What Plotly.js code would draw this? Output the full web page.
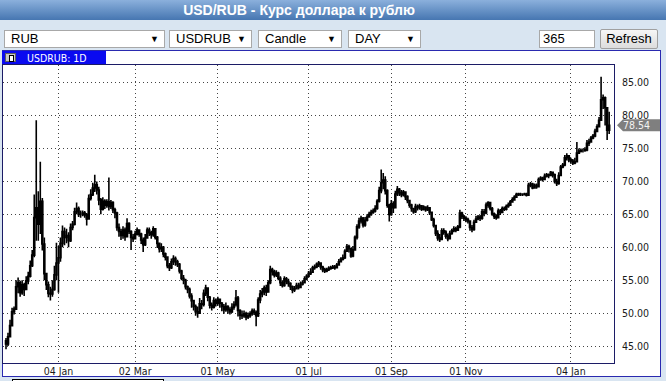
<!DOCTYPE html>
<html><head><meta charset="utf-8">
<script src="https://cdn.plot.ly/plotly-3.0.1.min.js"></script>
<style>
html,body{margin:0;padding:0}
body{width:666px;height:381px;overflow:hidden;background:#d9e5f1;font-family:"Liberation Sans",Arial,sans-serif;position:relative}
#titlebar{position:absolute;left:0;top:0;width:666px;height:20px;background:linear-gradient(#8bb0dc,#4676b1)}
#titlebar span{position:absolute;left:0;top:2px;width:598px;text-align:center;color:#fff;font-weight:bold;font-size:14px;line-height:16px}
.sel{position:absolute;top:30px;height:18px;box-sizing:border-box;border:1px solid #a8a8a8;background:#fff;font-size:13px;line-height:16px;padding-left:6px;color:#000}
.sel i{position:absolute;right:5px;top:0;font-style:normal;font-size:9px}
#num{position:absolute;left:539px;top:30px;width:56px;height:18px;box-sizing:border-box;border:1px solid #a8a8a8;background:#fff;font-size:13px;line-height:16px;padding-left:3px}
#btn{position:absolute;left:600px;top:29px;width:58px;height:20px;box-sizing:border-box;border:1px solid #a0a0a0;border-radius:2px;background:linear-gradient(#f6f6f6,#dcdcdc);font-size:13px;line-height:18px;text-align:center}
#panel{position:absolute;left:2px;top:50px;width:659px;height:327px;box-sizing:border-box;border:1px solid #2a2ab0;background:#fff}
#tab{position:absolute;left:2px;top:51px;width:104px;height:14px;background:#0a0af0;color:#fff;font-family:"DejaVu Sans Condensed",sans-serif;font-size:10.5px;line-height:14px}
#tab span{position:absolute;left:25px;top:0}
#icon{position:absolute;left:3px;top:2px;width:11px;height:9px;background:#c8c8c8;border:1px solid #606060;box-sizing:border-box}
#icon b{position:absolute;left:3px;top:1px;width:3px;height:5px;border:1px solid #000;background:#fff}
#scroll{position:absolute;left:12px;top:379px;width:150px;height:6px;border:1px solid #000;background:#fff}
#chart{position:absolute;left:0;top:0;width:666px;height:381px}
</style></head>
<body>
<div id="titlebar"><span>USD/RUB - Курс доллара к рублю</span></div>
<div class="sel" style="left:4px;width:161px">RUB<i>▼</i></div>
<div class="sel" style="left:169px;width:83px">USDRUB<i>▼</i></div>
<div class="sel" style="left:258px;width:84px">Candle<i>▼</i></div>
<div class="sel" style="left:348px;width:73px">DAY<i>▼</i></div>
<div id="num">365</div>
<div id="btn">Refresh</div>
<div id="panel"></div>
<div id="tab"><div id="icon"><b></b></div><span>USDRUB: 1D</span></div>
<div id="scroll"></div>
<div id="chart"></div>
<script>
const symbolName = "USDRUB: 1D";
const tickLabels = ["04 Jan","02 Mar","01 May","01 Jul","01 Sep","01 Nov","04 Jan"];
const tickBars = [26, 64, 105, 150, 191, 228, 280];
const firstOpen = 45.8;
const closeVals = [
45.3,46.4,48.1,50.2,50.6,54.0,54.6,53.1,54.3,53.6,
54.9,55.6,57.2,58.8,64.5,66.0,63.5,67.0,60.5,56.0,
54.3,53.0,52.9,53.6,55.8,57.6,58.4,60.6,62.4,61.5,
61.8,61.0,63.0,63.5,65.4,65.9,65.0,65.0,65.2,64.9,
64.3,67.4,68.0,69.0,69.5,68.7,67.2,65.8,67.0,66.4,
66.9,66.2,66.8,65.7,65.2,63.0,62.4,61.8,62.6,61.6,
63.6,62.4,61.5,61.3,62.0,62.6,62.0,61.1,60.4,61.4,
62.6,62.2,61.9,62.8,61.5,60.6,59.8,60.0,59.0,58.5,
57.2,56.9,57.8,58.3,57.8,57.4,56.4,55.3,55.0,54.0,
53.6,52.6,51.9,51.0,50.2,50.0,51.4,51.3,53.0,53.8,
52.4,51.2,50.9,51.9,51.5,52.1,51.5,51.0,50.5,51.0,
50.5,50.2,50.9,51.3,52.3,50.4,49.7,49.6,49.9,49.4,
49.6,49.9,50.3,50.1,49.6,52.0,52.9,53.2,53.8,53.2,
54.6,56.6,56.3,55.8,56.1,55.3,54.6,54.2,55.2,54.8,
54.5,54.0,53.5,53.7,54.2,53.9,54.4,54.6,55.2,55.6,
56.0,56.2,56.9,57.0,57.4,57.6,57.0,56.6,56.4,56.6,
56.8,56.9,57.0,56.9,57.3,57.8,58.2,58.4,59.4,60.1,
59.8,58.7,59.6,61.5,63.1,64.0,64.4,63.4,64.1,64.6,
65.0,65.3,65.5,65.9,67.0,68.6,69.8,70.2,68.6,66.4,
65.0,66.6,66.0,68.1,68.8,68.3,68.0,68.4,67.7,67.1,
66.4,65.9,65.4,66.2,66.0,66.3,65.8,66.1,65.7,66.0,
65.3,64.2,63.3,62.1,61.4,61.2,62.5,62.3,61.7,61.3,
62.1,62.5,62.8,62.6,63.1,65.2,64.7,64.4,64.2,64.0,
63.0,62.7,63.8,64.3,64.6,64.4,65.4,65.2,66.4,66.8,
65.9,65.1,64.7,64.5,65.5,65.3,65.9,65.8,66.2,66.4,
66.9,67.2,67.6,68.0,68.1,68.0,68.0,68.1,67.9,69.4,
69.6,69.0,69.4,69.2,70.3,70.5,70.3,70.8,71.0,70.9,
71.4,71.0,70.0,69.7,70.9,72.2,72.5,73.6,73.9,73.3,
73.1,72.8,73.0,74.3,74.6,74.7,74.7,74.8,75.8,76.0,
76.6,76.9,77.6,78.3,79.3,82.4,82.7,81.2,77.8,78.54];
const highVals = [
46.2,47.0,49.0,50.8,51.0,55.0,55.4,54.9,55.0,54.6,
55.6,56.3,58.0,59.6,68.0,79.3,68.5,73.0,67.5,61.5,
56.0,54.8,54.0,55.0,57.2,60.7,60.2,61.5,63.3,63.0,
62.8,62.3,63.6,64.0,66.0,66.8,66.2,65.6,65.6,65.5,
65.2,68.0,68.8,69.8,71.0,70.0,69.2,67.5,67.6,67.3,
67.3,70.6,67.2,67.0,66.0,65.4,63.6,62.8,63.2,63.0,
64.4,63.8,62.6,62.0,62.5,63.0,62.7,62.2,61.5,62.0,
63.0,63.0,62.5,63.2,62.9,61.7,60.7,60.6,60.2,59.2,
58.6,57.6,58.3,58.8,58.6,58.1,57.6,56.6,55.8,55.2,
54.2,53.9,53.0,52.0,51.3,51.0,52.3,52.0,53.6,54.3,
53.8,52.6,51.6,52.4,52.2,52.5,52.2,51.7,51.4,51.6,
51.2,50.9,51.5,51.8,53.5,52.6,50.6,50.4,50.4,50.2,
50.1,50.3,50.7,50.7,50.4,52.4,53.5,53.8,54.2,54.3,
55.0,57.2,56.9,56.6,56.5,56.3,55.6,55.0,55.6,55.5,
55.2,54.7,54.2,54.1,54.6,54.6,54.8,55.0,55.6,55.9,
56.4,56.8,57.2,57.4,57.7,57.9,57.7,57.2,56.9,56.9,
57.1,57.2,57.3,57.3,57.6,58.2,58.5,58.9,59.7,60.5,
60.4,59.8,60.2,61.8,63.5,64.5,64.8,64.6,64.6,65.0,
65.4,65.7,65.9,66.4,67.3,69.2,71.8,71.3,70.8,68.8,
66.6,67.2,67.0,68.6,69.3,69.0,68.7,68.7,68.5,67.9,
67.0,66.6,66.0,66.6,66.5,66.6,66.4,66.4,66.2,66.4,
66.1,65.4,64.5,63.4,62.6,62.0,62.9,62.9,62.6,62.1,
62.5,62.8,63.2,63.1,63.4,65.7,65.4,64.9,64.7,64.5,
64.0,63.4,64.2,64.8,64.9,64.9,65.8,65.8,66.8,67.0,
66.9,66.1,65.3,65.0,65.9,65.8,66.2,66.2,66.5,66.8,
67.2,67.6,67.9,68.3,68.3,68.3,68.2,68.3,68.3,69.8,
69.9,69.8,69.7,69.7,70.6,70.8,70.7,71.2,71.3,71.2,
71.6,71.5,71.2,70.4,71.4,72.5,72.8,74.0,74.3,74.0,
73.6,73.4,73.6,76.0,75.0,75.0,75.0,75.2,76.3,76.5,
76.9,77.2,78.0,78.7,79.8,85.9,83.2,82.9,80.4,80.6];
const lowVals = [
44.5,45.0,46.3,48.0,49.8,50.5,53.0,52.5,52.8,52.6,
53.8,54.4,55.4,57.0,58.5,61.0,61.0,62.0,59.5,55.0,
53.5,52.4,51.9,52.5,53.4,55.0,53.1,57.8,60.0,60.3,
60.6,60.0,60.8,62.6,63.3,65.0,64.6,64.5,64.7,64.5,
63.3,64.2,67.1,67.8,68.4,68.0,66.4,65.0,65.6,65.8,
66.0,65.6,65.8,65.2,64.4,62.5,61.6,61.1,61.3,61.0,
61.5,62.0,59.6,60.8,61.2,61.8,61.6,60.5,59.3,60.2,
61.4,61.7,61.3,61.6,61.2,59.9,59.2,59.3,58.5,58.0,
56.8,56.4,56.7,57.3,57.2,57.0,56.0,55.0,54.4,53.6,
53.0,52.2,50.8,50.4,49.6,49.3,49.9,50.6,51.0,52.6,
51.8,50.7,50.4,50.7,51.0,51.1,50.8,50.3,49.9,50.2,
49.9,49.8,50.0,50.5,51.0,49.5,49.0,49.1,49.3,48.9,
49.1,49.3,49.6,49.7,48.0,49.4,51.5,52.4,52.7,52.6,
53.6,54.4,55.7,55.4,55.5,55.0,54.1,53.9,54.0,54.4,
54.0,53.5,53.0,53.2,53.6,53.6,53.8,54.2,54.5,55.0,
55.4,55.8,56.1,56.6,56.8,57.0,56.6,56.2,56.1,56.2,
56.4,56.6,56.7,56.6,56.8,57.2,57.7,58.0,58.2,59.3,
59.2,58.4,58.5,59.5,61.2,62.8,63.6,63.0,63.1,63.9,
64.5,64.8,65.1,65.3,65.7,66.8,68.2,68.8,68.0,66.0,
63.9,64.8,65.2,65.9,67.8,67.8,67.6,67.7,67.2,66.7,
66.0,65.4,65.1,65.2,65.6,65.7,65.5,65.6,65.4,65.5,
64.9,64.0,63.0,61.7,61.0,60.8,61.1,61.9,61.3,60.9,
61.6,61.9,62.3,62.3,62.5,62.9,64.3,64.0,63.8,63.6,
62.5,62.3,62.5,63.7,64.1,64.0,64.2,64.7,65.0,66.0,
65.6,64.8,64.3,64.2,64.4,64.9,65.2,65.5,65.6,66.0,
66.3,66.8,67.1,67.5,67.8,67.8,67.8,67.9,67.7,67.8,
69.1,68.8,68.9,68.9,69.1,70.1,70.0,70.2,70.6,70.5,
70.8,70.6,69.7,69.3,69.5,70.8,72.0,72.3,73.2,72.9,
72.7,72.5,72.6,72.9,74.2,74.4,74.4,74.5,74.6,75.4,
76.0,76.4,76.7,77.5,78.2,79.2,81.0,78.5,76.3,77.2];

const barIdx = closeVals.map((_, i) => i);
const openVals = closeVals.map((c, i) => i === 0 ? firstOpen : closeVals[i - 1]);
const hi = highVals.map((h, i) => Math.max(h, openVals[i], closeVals[i]));
const lo = lowVals.map((l, i) => Math.min(l, openVals[i], closeVals[i]));
const lastClose = closeVals[closeVals.length - 1];

const axisFont = {family: '"DejaVu Sans Condensed", "DejaVu Sans", sans-serif', size: 10.5, color: '#1a1a1a'};
const trace = {
  type: 'candlestick', x: barIdx, open: openVals, high: hi, low: lo, close: closeVals,
  increasing: {line: {color: '#000', width: 1.6}, fillcolor: '#000'},
  decreasing: {line: {color: '#000', width: 1.6}, fillcolor: '#000'},
  whiskerwidth: 0, hoverinfo: 'skip', showlegend: false
};
const layout = {
  width: 666, height: 381,
  margin: {l: 3, r: 52, t: 65, b: 18, pad: 0},
  paper_bgcolor: 'rgba(0,0,0,0)', plot_bgcolor: '#ffffff',
  showlegend: false,
  xaxis: {
    range: [-1.49, 301.4], rangeslider: {visible: false}, fixedrange: true,
    tickmode: 'array', tickvals: tickBars, ticktext: tickLabels,
    showgrid: true, gridcolor: '#444', griddash: '1px,3px', gridwidth: 1,
    zeroline: false, showline: true, mirror: true, linecolor: '#1c1c66', linewidth: 1,
    ticks: '', ticklabelstandoff: -2, tickfont: axisFont
  },
  yaxis: {
    side: 'right', range: [42.42, 87.69], fixedrange: true,
    tick0: 45, dtick: 5, tickformat: '.2f',
    showgrid: true, gridcolor: '#444', griddash: '1px,3px', gridwidth: 1,
    zeroline: false, showline: true, mirror: true, linecolor: '#1c1c66', linewidth: 1,
    ticks: 'outside', ticklen: 5, tickcolor: 'rgba(0,0,0,0)', tickfont: axisFont
  },
  shapes: [{
    type: 'path', layer: 'above',
    xref: 'paper', xsizemode: 'pixel', xanchor: 1,
    yref: 'y', ysizemode: 'pixel', yanchor: lastClose,
    path: 'M3,0 L9,-6 L46,-6 L46,6 L9,6 Z',
    fillcolor: '#7f7f7f', line: {width: 0}
  }],
  annotations: [{
    xref: 'paper', x: 1, xanchor: 'left', xshift: 7,
    yref: 'y', y: lastClose, yanchor: 'middle',
    text: lastClose.toFixed(2), showarrow: false,
    font: {family: axisFont.family, size: 10.5, color: '#f2f2f2'}
  }]
};
Plotly.newPlot('chart', [trace], layout, {staticPlot: true, displayModeBar: false});
</script>
</body></html>
